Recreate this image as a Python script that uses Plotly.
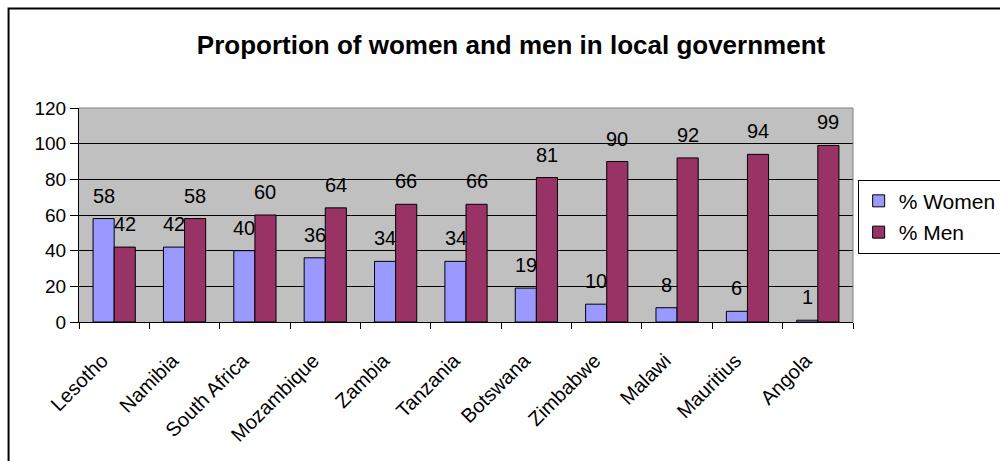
import plotly.graph_objects as go

countries = ["Lesotho", "Namibia", "South Africa", "Mozambique", "Zambia", "Tanzania",
             "Botswana", "Zimbabwe", "Malawi", "Mauritius", "Angola"]
women = [58, 42, 40, 36, 34, 34, 19, 10, 8, 6, 1]
men = [42, 58, 60, 64, 66, 66, 81, 90, 92, 94, 99]
y_ticks = [0, 20, 40, 60, 80, 100, 120]

FONT = "Liberation Sans, Arial, sans-serif"
WOMEN_COLOR = "#9999FF"
MEN_COLOR = "#993366"

fig = go.Figure()
fig.add_trace(go.Bar(x=countries, y=women, name="% Women", legendgroup="w",
                     marker=dict(color=WOMEN_COLOR, line=dict(color="black", width=1))))
fig.add_trace(go.Bar(x=countries, y=men, name="% Men", legendgroup="m",
                     marker=dict(color=MEN_COLOR, line=dict(color="black", width=1))))

# value labels floating above each bar
annotations = []
for c, w, m in zip(countries, women, men):
    annotations.append(dict(x=c, y=w, text=str(w), showarrow=False, xshift=-10.5,
                            yshift=23, yanchor="middle",
                            font=dict(family=FONT, size=20, color="black")))
    annotations.append(dict(x=c, y=m, text=str(m), showarrow=False, xshift=10.5,
                            yshift=23, yanchor="middle",
                            font=dict(family=FONT, size=20, color="black")))

fig.update_layout(
    width=1000, height=461,
    margin=dict(l=79, r=147, t=108, b=139, autoexpand=False),
    paper_bgcolor="white",
    plot_bgcolor="#C0C0C0",
    barmode="group",
    bargap=0.4,
    bargroupgap=0,
    showlegend=True,
    annotations=annotations,
    title=dict(text="<b>Proportion of women and men in local government</b>",
               x=0.511, xanchor="center", y=0.902, yanchor="middle",
               font=dict(family=FONT, size=26, color="black")),
    font=dict(family=FONT, color="black"),
    legend=dict(x=1.006, xanchor="left", y=0.665, yanchor="top",
                bgcolor="white", bordercolor="black", borderwidth=1,
                font=dict(family=FONT, size=21, color="black"),
                itemwidth=30, traceorder="grouped", tracegroupgap=1),
    xaxis=dict(tickangle=-45, tickfont=dict(family=FONT, size=20, color="black"),
               showline=True, linecolor="black", linewidth=1,
               ticks="outside", tickson="boundaries", ticklen=6, tickcolor="black",
               ticklabelstandoff=18, ticklabelshift=-12, showgrid=False),
    yaxis=dict(range=[0, 120], tickvals=y_ticks,
               tickfont=dict(family=FONT, size=19, color="black"),
               showline=True, linecolor="black", linewidth=1,
               ticks="outside", ticklen=8, tickcolor="black",
               showgrid=True, gridcolor="black", gridwidth=1, zeroline=False),
    shapes=[
        # grey border on the top and right of the plot area
        dict(type="line", xref="paper", yref="paper", x0=0, x1=1, y0=1, y1=1,
             line=dict(color="#808080", width=1)),
        dict(type="line", xref="paper", yref="paper", x0=1, x1=1, y0=0, y1=1,
             line=dict(color="#808080", width=1)),
        # outer chart frame
        dict(type="rect", xref="paper", yref="paper", x0=-0.091, x1=1.3, y0=-1.0, y1=1.465,
             line=dict(color="black", width=2), layer="above"),
    ],
)

fig.write_html("out.html")
